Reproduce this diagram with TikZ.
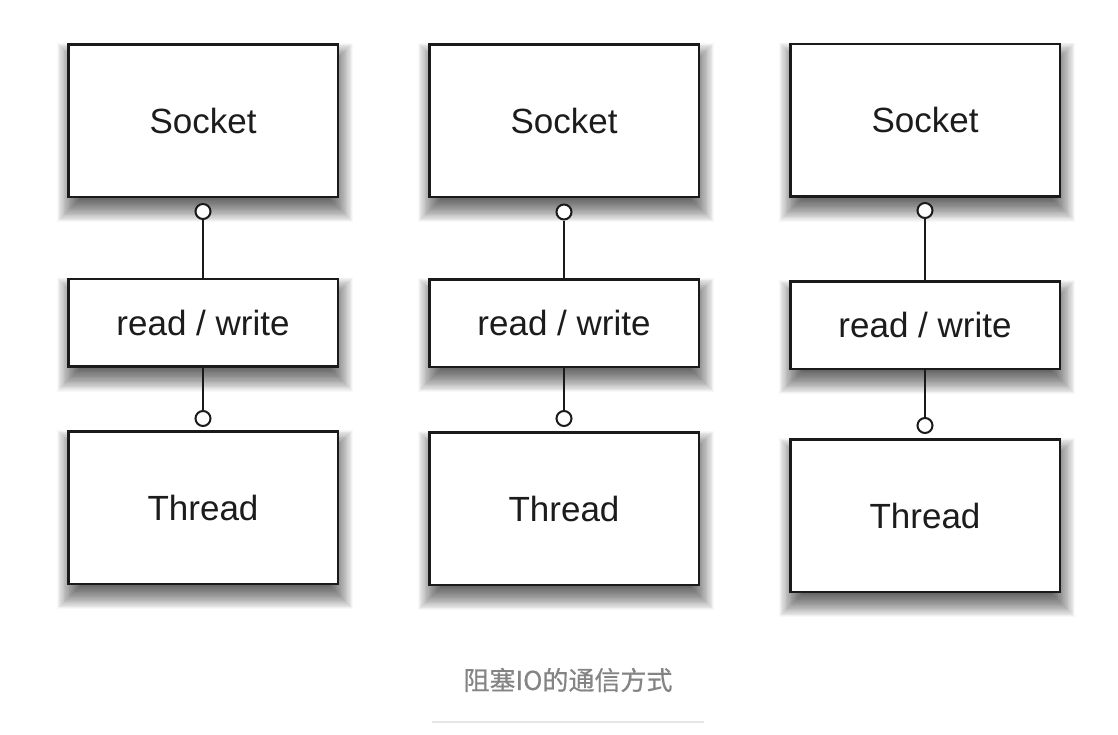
\documentclass[tikz,border=0pt]{standalone}
\usepackage{fontspec}
\setmainfont{Liberation Sans}
\newfontfamily\cjk[FakeBold=0.6]{Noto Sans CJK SC}
\pgfdeclarelayer{bglayer}
\pgfdeclarelayer{shadowlayer}
\pgfsetlayers{bglayer,shadowlayer,main}
\definecolor{boxline}{HTML}{1A1A1A}
\definecolor{txt}{HTML}{1C1C1C}
\definecolor{capgray}{HTML}{848484}
\definecolor{rulegray}{HTML}{E6E6E6}
\tikzset{
  box/.style={draw=boxline, line width=2.5pt, fill=white, minimum width=269.5pt,
    text=txt, font=\fontsize{35}{40}\selectfont, inner sep=0pt},
  tallbox/.style={box, minimum height=152.5pt},
  flatbox/.style={box, minimum height=87.5pt},
  ring/.style={circle, draw=boxline, line width=2pt, fill=white, minimum size=15pt, inner sep=0pt},
  conn/.style={draw=boxline, line width=2pt},
  shadowstep/.style={fill=black, fill opacity=0.027, draw=none},
}
\begin{document}
\begin{tikzpicture}[x=1pt, y=-1pt]
\useasboundingbox (0,0) rectangle (1118,734);
\begin{pgfonlayer}{bglayer}
\fill[white] (0,0) rectangle (1118,734);
\end{pgfonlayer}
% column 1
\node[tallbox] (s1) at (203,120.5) {Socket};
\node[flatbox] (rw1) at (203,322.5) {read / write};
\node[tallbox] (t1) at (203,507.5) {Thread};
\node[ring] (c1a) at (203,211.5) {};
\node[ring] (c1b) at (203,418.5) {};
% column 2
\node[tallbox] (s2) at (564,120.5) {Socket};
\node[flatbox] (rw2) at (564,323) {read / write};
\node[tallbox] (t2) at (564,508.5) {Thread};
\node[ring] (c2a) at (564,212) {};
\node[ring] (c2b) at (564,418.5) {};
% column 3
\node[tallbox] (s3) at (925,120) {Socket};
\node[flatbox] (rw3) at (925,325) {read / write};
\node[tallbox] (t3) at (925,515.5) {Thread};
\node[ring] (c3a) at (925,210.5) {};
\node[ring] (c3b) at (925,425.5) {};
% soft drop shadows
\begin{pgfonlayer}{shadowlayer}
\foreach \n in {s1,rw1,t1,s2,rw2,t2,s3,rw3,t3}{
  \foreach \k in {0,...,29}{
    \pgfmathsetmacro\d{12-\k*24/29}
    \fill[shadowstep] ([shift={(2-\d,12-\d)}]\n.north west) rectangle ([shift={(2+\d,12+\d)}]\n.south east);
  }
}
\end{pgfonlayer}
% connectors
\draw[conn] (c1a) -- (rw1);
\draw[conn] (rw1) -- (c1b);
\draw[conn] (c2a) -- (rw2);
\draw[conn] (rw2) -- (c2b);
\draw[conn] (c3a) -- (rw3);
\draw[conn] (rw3) -- (c3b);
% caption
\node[text=capgray, font=\cjk\fontsize{26}{30}\selectfont] (cap) at (568,680) {阻塞IO的通信方式};
\coordinate (ra) at (432,722);
\coordinate (rb) at (704,722);
\draw[rulegray, line width=1.5pt] (ra) -- (rb);
\end{tikzpicture}
\end{document}
